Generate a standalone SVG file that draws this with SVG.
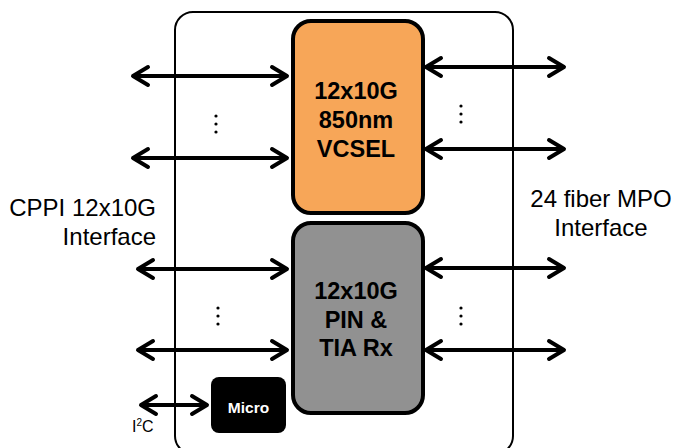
<svg xmlns="http://www.w3.org/2000/svg" width="677" height="448" viewBox="0 0 677 448">
<defs>
<marker id="ah" viewBox="-20 -12 24 24" refX="0" refY="0" markerWidth="24" markerHeight="24" markerUnits="userSpaceOnUse" orient="auto-start-reverse">
<path d="M -15 -9 L 0 0 L -15 9" fill="none" stroke="#000" stroke-width="4" stroke-linecap="round" stroke-linejoin="round"/>
</marker>
</defs>
<style>
.conn{stroke:#000;stroke-width:4;fill:none;marker-start:url(#ah);marker-end:url(#ah)}
.bold{font-family:"Liberation Sans",Arial,sans-serif;font-weight:bold;font-size:23.5px;fill:#000;text-anchor:middle}
.lbl{font-family:"Liberation Sans",Arial,sans-serif;font-size:24px;fill:#000}
.blk{stroke:#000;stroke-width:4}
</style>
<rect width="677" height="448" fill="#fff"/>
<g id="module">
<rect x="175" y="12" width="338" height="442" rx="18" fill="none" stroke="#000" stroke-width="2"/>
</g>
<g id="connectors">
<line class="conn" x1="133" y1="76" x2="287" y2="76"/>
<line class="conn" x1="133" y1="158" x2="287" y2="158"/>
<line class="conn" x1="138" y1="269" x2="287" y2="269"/>
<line class="conn" x1="138" y1="350" x2="287" y2="350"/>
<line class="conn" x1="141" y1="405" x2="207" y2="405"/>
<line class="conn" x1="426" y1="67" x2="564" y2="67"/>
<line class="conn" x1="426" y1="149" x2="564" y2="149"/>
<line class="conn" x1="426" y1="268" x2="564" y2="268"/>
<line class="conn" x1="426" y1="350" x2="564" y2="350"/>
</g>
<g id="vcsel">
<rect class="blk" x="293" y="21" width="130" height="192" rx="18" fill="#F7A658"/>
<text class="bold" x="356" y="99">12x10G</text>
<text class="bold" x="356" y="128">850nm</text>
<text class="bold" x="356" y="157">VCSEL</text>
</g>
<g id="rx">
<rect class="blk" x="293" y="223" width="130" height="190" rx="18" fill="#919191"/>
<text class="bold" x="356" y="299">12x10G</text>
<text class="bold" x="356" y="328">PIN &amp;</text>
<text class="bold" x="356" y="356">TIA Rx</text>
</g>
<g id="micro">
<rect x="211" y="377" width="75" height="56" rx="8" fill="#000"/>
<text x="248.5" y="413" font-family="Liberation Sans,Arial,sans-serif" font-weight="bold" font-size="15.5" fill="#fff" text-anchor="middle">Micro</text>
</g>
<g id="ellipses">
<g fill="#000">
<circle cx="216" cy="116" r="1.6"/><circle cx="216" cy="124" r="1.6"/><circle cx="216" cy="132" r="1.6"/>
<circle cx="461" cy="106" r="1.6"/><circle cx="461" cy="114" r="1.6"/><circle cx="461" cy="122" r="1.6"/>
<circle cx="218" cy="308" r="1.6"/><circle cx="218" cy="316" r="1.6"/><circle cx="218" cy="324" r="1.6"/>
<circle cx="461" cy="308" r="1.6"/><circle cx="461" cy="316" r="1.6"/><circle cx="461" cy="324" r="1.6"/>
</g>
</g>
<g id="cppi-label">
<text class="lbl" x="156" y="216" text-anchor="end">CPPI 12x10G</text>
<text class="lbl" x="156" y="245" text-anchor="end">Interface</text>
</g>
<g id="mpo-label">
<text class="lbl" x="601" y="207" text-anchor="middle">24 fiber MPO</text>
<text class="lbl" x="601" y="236" text-anchor="middle">Interface</text>
</g>
<g id="i2c-label">
<text x="132" y="432" font-family="Liberation Sans,Arial,sans-serif" font-size="16" fill="#000">I<tspan font-size="10" dy="-6">2</tspan><tspan dy="6">C</tspan></text>
</g>
</svg>
